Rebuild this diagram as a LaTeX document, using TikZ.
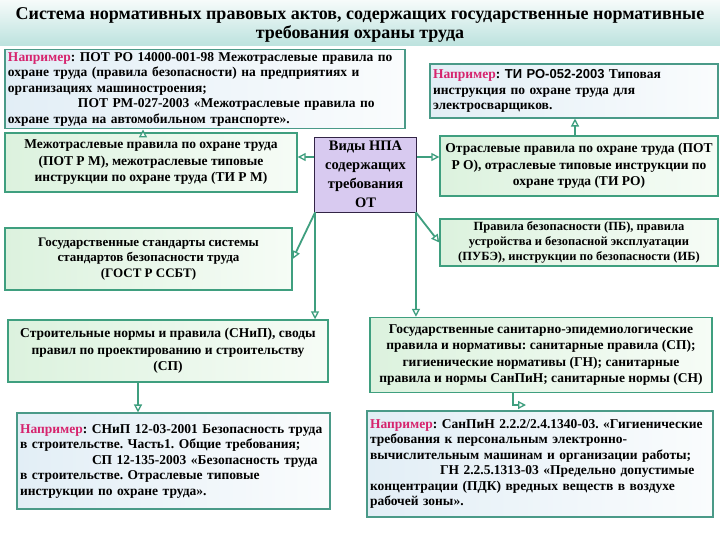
\documentclass[tikz,border=0pt]{standalone}
\usepackage{fontspec}
\setmainfont{Liberation Serif}
\newfontfamily\arialf{Liberation Sans}
\usetikzlibrary{arrows.meta}
\frenchspacing
\definecolor{gborder}{RGB}{63,159,127}
\definecolor{gfillA}{RGB}{220,242,222}
\definecolor{gfillB}{RGB}{246,252,246}
\definecolor{exborder}{RGB}{74,154,136}
\definecolor{exfillA}{RGB}{226,238,246}
\definecolor{exfillB}{RGB}{250,252,253}
\definecolor{cfill}{RGB}{216,202,240}
\definecolor{cborder}{RGB}{50,36,70}
\definecolor{magenta2}{RGB}{214,36,110}
\definecolor{banA}{RGB}{246,251,250}
\definecolor{banB}{RGB}{188,226,222}
\newcommand{\npr}{{\color{magenta2}Например}}
\tikzset{
  gbox/.style={draw=gborder, line width=1.4pt, left color=gfillA, right color=gfillB,
    align=center, inner sep=2pt, font=\bfseries\fontsize{13.5}{16.5}\selectfont},
  exbox/.style={draw=exborder, line width=1.1pt, left color=exfillA, right color=exfillB,
    align=left, inner sep=3pt, font=\bfseries\fontsize{13.5}{15.5}\selectfont},
  cbox/.style={draw=cborder, line width=0.9pt, fill=cfill, align=center, inner sep=2pt,
    font=\bfseries\fontsize{14.5}{19}\selectfont},
  arr/.style={draw=gborder, line width=1.8pt,
    -{Triangle[open, length=8pt, width=8pt, line width=1.3pt, fill=white]}},
}
\begin{document}
\begin{tikzpicture}[x=1pt,y=-1pt]
\useasboundingbox (0,0) rectangle (720,540);
\fill[white] (0,0) rectangle (720,540);
\shade[top color=banA, bottom color=banB] (0,0) rectangle (720,46);
\node[align=center, font=\bfseries\fontsize{18}{18.5}\selectfont] (title) at (360,25)
  {Система нормативных правовых актов, содержащих государственные нормативные\\
   требования охраны труда};

\node[exbox, minimum width=400pt, minimum height=76pt, text width=394pt] (ex1) at (205,89)
  {\npr: ПОТ РО 14000-001-98 Межотраслевые правила по\\
   охране труда (правила безопасности) на предприятиях и\\
   организациях машиностроения;\\
   \hspace*{70pt}ПОТ РМ-027-2003 «Межотраслевые правила по\\
   охране труда на автомобильном транспорте».};

\node[exbox, minimum width=288pt, minimum height=54pt, text width=282pt] (ex2) at (574,91)
  {\npr: {\arialf\bfseries\fontsize{13}{15.5}\selectfont ТИ РО-052-2003} Типовая\\
   инструкция по охране труда для\\
   электросварщиков.};

\node[gbox, minimum width=292pt, minimum height=59pt] (mz) at (151,162.5)
  {Межотраслевые правила по охране труда\\
   (ПОТ Р М), межотраслевые типовые\\
   инструкции по охране труда (ТИ Р М)};

\node[cbox, minimum width=102pt, minimum height=75pt] (c) at (365.5,174.5)
  {Виды НПА\\ содержащих\\ требования\\ ОТ};

\node[gbox, minimum width=278pt, minimum height=60pt] (or) at (579,166)
  {Отраслевые правила по охране труда (ПОТ\\
   Р О), отраслевые типовые инструкции по\\
   охране труда (ТИ РО)};

\node[gbox, minimum width=287pt, minimum height=62pt, font=\bfseries\fontsize{13}{15.5}\selectfont] (gs) at (148.5,259)
  {Государственные стандарты системы\\
   стандартов безопасности труда\\
   (ГОСТ Р ССБТ)};

\node[gbox, minimum width=278pt, minimum height=47pt, font=\bfseries\fontsize{12.5}{15}\selectfont] (pb) at (579,242.5)
  {Правила безопасности (ПБ), правила\\
   устройства и безопасной эксплуатации\\
   (ПУБЭ), инструкции по безопасности (ИБ)};

\node[gbox, minimum width=320pt, minimum height=62pt] (st) at (168,351)
  {Строительные нормы и правила (СНиП), своды\\
   правил по проектированию и строительству\\
   (СП)};

\node[gbox, minimum width=342pt, minimum height=75pt] (sn) at (541,355)
  {Государственные санитарно-эпидемиологические\\
   правила и нормативы: санитарные правила (СП);\\
   гигиенические нормативы (ГН); санитарные\\
   правила и нормы СанПиН; санитарные нормы (СН)};

\node[exbox, minimum width=313pt, minimum height=96pt, text width=307pt] (ex3) at (173.5,461)
  {\npr: СНиП 12-03-2001 Безопасность труда\\
   в строительстве. Часть1. Общие требования;\\
   \hspace*{72pt}СП 12-135-2003 «Безопасность труда\\
   в строительстве. Отраслевые типовые\\
   инструкции по охране труда».};

\node[exbox, minimum width=346pt, minimum height=106pt, text width=340pt] (ex4) at (540,464)
  {\npr: СанПиН 2.2.2/2.4.1340-03. «Гигиенические\\
   требования к персональным электронно-\\
   вычислительным машинам и организации работы;\\
   \hspace*{70pt}ГН 2.2.5.1313-03 «Предельно допустимые\\
   концентрации (ПДК) вредных веществ в воздухе\\
   рабочей зоны».};

% connectors
\draw[arr] (c.west |- 0,157) -- (mz.east |- 0,157);
\draw[arr] (c.east |- 0,157) -- (or.west |- 0,157);
\draw[arr] (mz.north -| 143,0) -- (ex1.south -| 143,0);
\draw[arr] (or.north -| 575,0) -- (ex2.south -| 575,0);
\draw[arr] ([xshift=1pt]c.south west) -- (gs.east);
\draw[arr] ([xshift=1pt]c.south west) -- ([xshift=1pt]c.south west |- st.north);
\draw[arr] ([xshift=-1pt]c.south east) -- (pb.west);
\draw[arr] ([xshift=-1pt]c.south east) -- ([xshift=-1pt]c.south east |- sn.north);
\draw[arr] (st.south -| 138,0) -- (ex3.north -| 138,0);
\draw[arr] (sn.south -| 513,0) |- (526,405);
\end{tikzpicture}
\end{document}
